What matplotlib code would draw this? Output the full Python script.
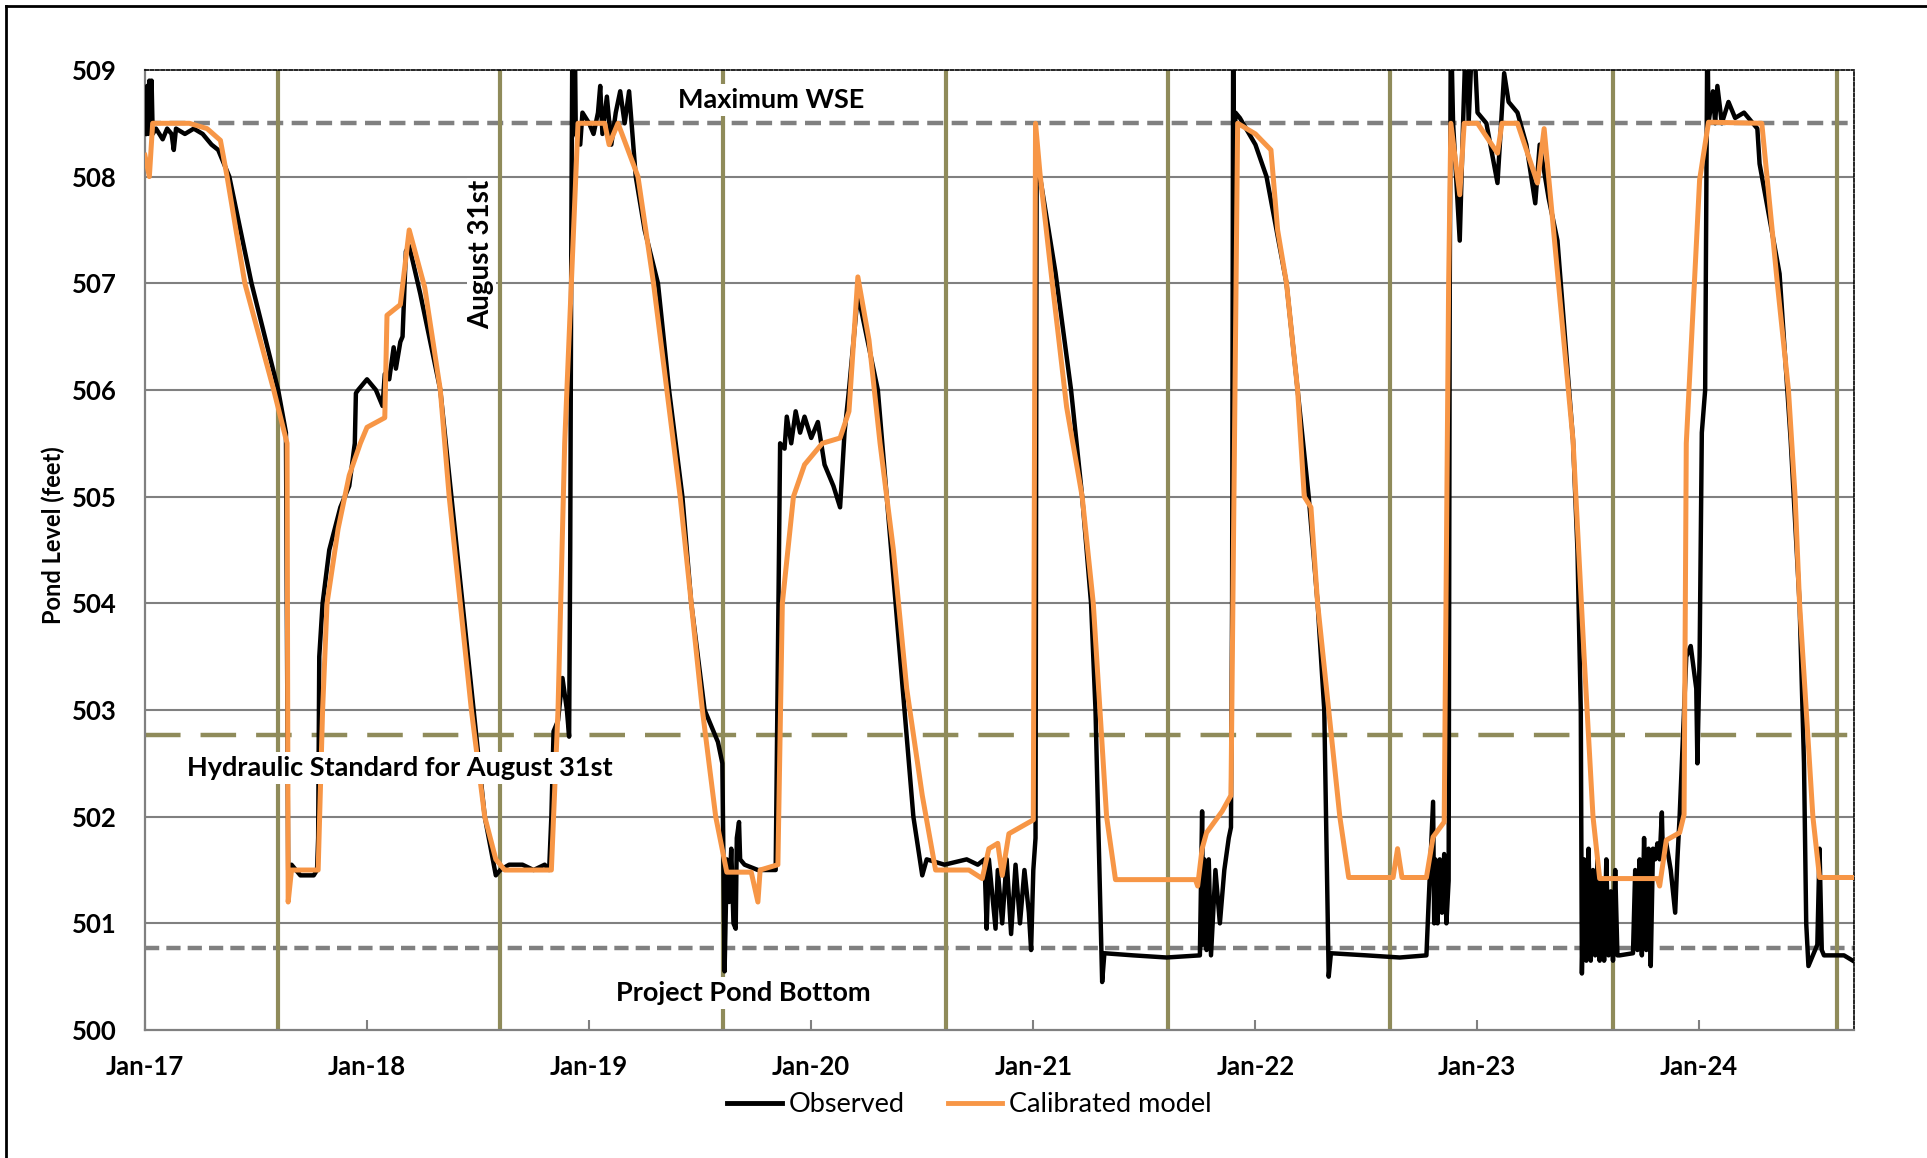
import numpy as np
import pandas as pd
import matplotlib
matplotlib.use('Agg')
import matplotlib.pyplot as plt
import matplotlib.dates as mdates
from matplotlib.lines import Line2D

plt.rcParams['font.family'] = ['Lato', 'DejaVu Sans']

# time axis values are years elapsed since 1 Jan 2017
obs_t = [0.0, 0.005, 0.01, 0.015, 0.02, 0.025, 0.03, 0.035, 0.05, 0.08, 0.10, 0.12, 0.13, 0.14,
         0.18, 0.22, 0.26, 0.30, 0.33, 0.38, 0.48, 0.60, 0.635, 0.645, 0.66, 0.70, 0.76, 0.775,
         0.78, 0.785, 0.80, 0.83, 0.88, 0.92, 0.945, 0.95, 0.96, 1.0, 1.04, 1.07, 1.08, 1.10,
         1.12, 1.13, 1.15, 1.16, 1.175, 1.19, 1.24, 1.33, 1.38, 1.43, 1.48, 1.53, 1.58, 1.60,
         1.64, 1.70, 1.75, 1.80, 1.82, 1.83, 1.84, 1.86, 1.88, 1.90, 1.91, 1.915, 1.92, 1.925,
         1.93, 1.935, 1.94, 1.96, 1.97, 2.0, 2.02, 2.04, 2.05, 2.06, 2.08, 2.10, 2.12, 2.14,
         2.16, 2.18, 2.21, 2.25, 2.31, 2.36, 2.42, 2.46, 2.52, 2.58, 2.60, 2.61, 2.62, 2.63,
         2.64, 2.65, 2.66, 2.665, 2.675, 2.68, 2.70, 2.76, 2.84, 2.85, 2.86, 2.88, 2.89, 2.91,
         2.93, 2.95, 2.97, 3.0, 3.03, 3.06, 3.10, 3.13, 3.15, 3.17, 3.21, 3.30, 3.34, 3.38,
         3.42, 3.46, 3.50, 3.52, 3.60, 3.70, 3.75, 3.78, 3.79, 3.80, 3.83, 3.84, 3.86, 3.88,
         3.90, 3.92, 3.94, 3.96, 3.98, 3.99, 4.0, 4.01, 4.015, 4.03, 4.10, 4.17, 4.22, 4.26,
         4.28, 4.31, 4.32, 4.45, 4.60, 4.75, 4.76, 4.765, 4.77, 4.78, 4.79, 4.80, 4.82, 4.84,
         4.86, 4.88, 4.89, 4.895, 4.90, 4.905, 4.91, 4.93, 5.0, 5.05, 5.14, 5.19, 5.24, 5.28,
         5.31, 5.33, 5.34, 5.50, 5.65, 5.77, 5.78, 5.80, 5.805, 5.81, 5.82, 5.83, 5.84, 5.85,
         5.86, 5.87, 5.875, 5.88, 5.89, 5.92, 5.935, 5.95, 5.96, 5.98, 6.0, 6.04, 6.09, 6.12,
         6.14, 6.18, 6.22, 6.26, 6.28, 6.32, 6.36, 6.43, 6.45, 6.465, 6.47, 6.48, 6.49, 6.50,
         6.51, 6.52, 6.53, 6.54, 6.55, 6.56, 6.57, 6.58, 6.59, 6.60, 6.61, 6.62, 6.63, 6.64,
         6.70, 6.71, 6.72, 6.73, 6.74, 6.75, 6.76, 6.77, 6.78, 6.79, 6.80, 6.81, 6.82, 6.83,
         6.835, 6.85, 6.87, 6.89, 6.90, 6.91, 6.94, 6.96, 6.985, 6.99, 7.0, 7.01, 7.025, 7.035,
         7.04, 7.06, 7.07, 7.08, 7.10, 7.13, 7.16, 7.20, 7.24, 7.26, 7.27, 7.36, 7.41, 7.45,
         7.47, 7.48, 7.49, 7.51, 7.53, 7.54, 7.55, 7.56, 7.65, 7.69]
obs_ft = [508.4, 508.6, 508.85, 508.4, 508.9, 508.45, 508.9, 508.4, 508.45, 508.35, 508.45, 508.4, 508.25, 508.45,
          508.4, 508.45, 508.4, 508.3, 508.25, 508.0, 507.0, 506.0, 505.6, 501.5, 501.55, 501.45, 501.45, 501.5,
          501.8, 503.5, 504.0, 504.5, 504.9, 505.1, 505.5, 505.97, 506.0, 506.1, 506.0, 505.85, 506.15, 506.1,
          506.4, 506.2, 506.45, 506.5, 507.3, 507.35, 506.9, 506.0, 505.0, 504.0, 503.0, 502.0, 501.45, 501.5,
          501.55, 501.55, 501.5, 501.55, 501.5, 502.0, 502.8, 502.9, 503.3, 503.0, 502.75, 504.5, 507.5, 509.5,
          508.5, 509.5, 508.4, 508.3, 508.6, 508.5, 508.4, 508.6, 508.85, 508.4, 508.75, 508.3, 508.6, 508.8,
          508.5, 508.8, 508.0, 507.5, 507.0, 506.0, 505.0, 504.0, 503.0, 502.7, 502.5, 500.55, 501.6, 501.2,
          501.7, 501.0, 500.95, 501.8, 501.95, 501.6, 501.55, 501.5, 501.5, 503.5, 505.5, 505.45, 505.75, 505.5,
          505.8, 505.6, 505.75, 505.55, 505.7, 505.3, 505.1, 504.9, 505.6, 506.0, 506.9, 506.0, 505.0, 504.0,
          503.0, 502.0, 501.45, 501.6, 501.55, 501.6, 501.55, 501.6, 500.95, 501.6, 500.95, 501.5, 501.0, 501.6,
          500.9, 501.55, 501.0, 501.5, 501.1, 500.75, 501.5, 501.8, 508.0, 508.0, 507.1, 506.0, 505.0, 504.0,
          503.0, 500.45, 500.72, 500.7, 500.68, 500.7, 502.05, 500.8, 501.6, 500.75, 501.6, 500.7, 501.5, 501.0,
          501.5, 501.8, 501.9, 504.0, 509.5, 506.9, 508.6, 508.55, 508.3, 508.0, 507.0, 506.0, 505.0, 504.0,
          503.0, 500.5, 500.72, 500.7, 500.68, 500.7, 501.2, 502.14, 501.0, 501.6, 501.0, 501.6, 501.1, 501.65,
          501.0, 501.4, 506.93, 509.5, 508.5, 507.4, 508.5, 509.5, 508.5, 509.5, 508.6, 508.5, 507.94, 508.97,
          508.7, 508.6, 508.3, 507.75, 508.3, 507.8, 507.4, 505.53, 504.5, 503.0, 500.53, 501.6, 500.65, 501.7,
          500.65, 501.5, 500.7, 501.6, 500.65, 501.4, 500.65, 501.6, 500.7, 501.3, 500.65, 501.5, 500.7, 500.7,
          500.72, 501.5, 500.75, 501.6, 500.7, 501.8, 500.75, 501.7, 500.6, 501.7, 501.6, 501.75, 501.6, 502.04,
          501.6, 501.75, 501.5, 501.1, 501.6, 502.0, 503.5, 503.6, 503.2, 502.5, 503.5, 505.6, 506.0, 509.5,
          508.5, 508.8, 508.5, 508.85, 508.5, 508.7, 508.55, 508.6, 508.5, 508.45, 508.12, 507.09, 505.53, 504.0,
          502.5, 501.0, 500.6, 500.7, 500.8, 501.7, 500.75, 500.7, 500.7, 500.65]

mod_t = [0.0, 0.02, 0.035, 0.20, 0.28, 0.34, 0.37, 0.45, 0.58, 0.64, 0.645, 0.66, 0.78, 0.80,
         0.82, 0.87, 0.92, 0.97, 1.0, 1.08, 1.09, 1.15, 1.19, 1.26, 1.33, 1.37, 1.42, 1.47,
         1.53, 1.58, 1.62, 1.83, 1.86, 1.89, 1.95, 2.07, 2.09, 2.13, 2.22, 2.29, 2.35, 2.41,
         2.46, 2.51, 2.57, 2.62, 2.73, 2.76, 2.77, 2.85, 2.87, 2.92, 2.97, 3.05, 3.13, 3.17,
         3.21, 3.26, 3.31, 3.37, 3.43, 3.50, 3.56, 3.71, 3.77, 3.80, 3.84, 3.86, 3.89, 4.0,
         4.01, 4.03, 4.08, 4.15, 4.22, 4.27, 4.30, 4.33, 4.37, 4.73, 4.74, 4.76, 4.78, 4.85,
         4.89, 4.92, 5.0, 5.07, 5.10, 5.14, 5.19, 5.22, 5.25, 5.28, 5.33, 5.38, 5.42, 5.62,
         5.64, 5.66, 5.77, 5.80, 5.85, 5.87, 5.88, 5.92, 5.94, 6.0, 6.09, 6.11, 6.18, 6.27,
         6.30, 6.36, 6.43, 6.48, 6.52, 6.55, 6.81, 6.82, 6.85, 6.91, 6.93, 6.94, 7.0, 7.04,
         7.28, 7.35, 7.40, 7.43, 7.45, 7.48, 7.51, 7.54, 7.695]
mod_ft = [508.2, 508.0, 508.5, 508.5, 508.45, 508.34, 508.0, 507.0, 506.0, 505.5, 501.2, 501.5, 501.5, 503.0,
          504.0, 504.7, 505.2, 505.5, 505.65, 505.74, 506.7, 506.8, 507.5, 506.96, 506.0, 505.0, 504.0, 503.0,
          502.0, 501.6, 501.5, 501.5, 503.0, 505.5, 508.5, 508.5, 508.3, 508.5, 508.0, 507.0, 506.0, 505.0,
          504.0, 503.0, 502.0, 501.48, 501.48, 501.2, 501.5, 501.55, 504.0, 505.0, 505.3, 505.5, 505.55, 505.8,
          507.06, 506.47, 505.5, 504.5, 503.2, 502.2, 501.5, 501.5, 501.42, 501.7, 501.75, 501.45, 501.84, 501.97,
          508.5, 508.03, 507.1, 505.84, 505.0, 504.0, 503.0, 502.0, 501.41, 501.41, 501.35, 501.7, 501.85, 502.05,
          502.2, 508.5, 508.4, 508.25, 507.5, 507.0, 506.0, 505.0, 504.9, 504.0, 503.0, 502.0, 501.43, 501.43,
          501.7, 501.43, 501.43, 501.81, 501.95, 507.0, 508.5, 507.83, 508.5, 508.5, 508.22, 508.5, 508.5, 507.94,
          508.45, 507.1, 505.53, 503.5, 502.0, 501.42, 501.42, 501.35, 501.78, 501.85, 502.02, 505.5, 507.97, 508.51,
          508.5, 507.0, 506.0, 505.0, 504.0, 503.0, 502.0, 501.43, 501.43]

max_wse = 508.5
hydraulic_std = 502.77
pond_bottom = 500.77
# vertical season markers as they sit in the picture (years since Jan 2017)
mark_t = [0.60, 1.60, 2.605, 3.607, 4.605, 5.608, 6.612, 7.617]
x_end_t = 7.695

base = pd.Timestamp('2017-01-01')


def to_date(t):
    return base + pd.to_timedelta(np.asarray(t, dtype=float) * 365.25, unit='D')


grey = '#808080'
olive = '#8F8B5A'
orange = '#F79646'

fig = plt.figure(figsize=(19.27, 11.58), dpi=100)
ax = fig.add_axes([0.0752, 0.1105, 0.9621 - 0.0752, 0.9396 - 0.1105])

for y in range(501, 509):
    ax.axhline(y, color=grey, lw=1.5, zorder=1)

ax.axhline(max_wse, color=grey, lw=3.2, ls=(0, (3.6, 1.9)), zorder=2)
ax.axhline(pond_bottom, color=grey, lw=3.2, ls=(0, (3.2, 1.6)), zorder=2)
ax.axhline(hydraulic_std, color=olive, lw=3.2, ls=(0, (8, 4.5)), zorder=2)
for d in to_date(mark_t):
    ax.axvline(d, color=olive, lw=3, zorder=2)

ax.plot(to_date(obs_t), obs_ft, color='black', lw=3.2, zorder=3)
ax.plot(to_date(mod_t), mod_ft, color=orange, lw=3.6, zorder=4)

ax.set_ylim(500, 509)
ax.set_xlim(to_date([0.0])[0], to_date([x_end_t])[0])
ax.set_yticks(range(500, 510))
ax.xaxis.set_major_locator(mdates.YearLocator())
ax.xaxis.set_major_formatter(mdates.DateFormatter('%b-%y'))
ax.tick_params(axis='x', direction='in', length=7, width=1.5, color=grey, pad=18, labelsize=18.5)
ax.tick_params(axis='y', length=0, pad=20, labelsize=18.5)
for lab in ax.get_xticklabels() + ax.get_yticklabels():
    lab.set_fontweight('bold')

for side in ['left', 'bottom']:
    ax.spines[side].set_color(grey)
    ax.spines[side].set_linewidth(1.6)
for side in ['top', 'right']:
    ax.spines[side].set_color('black')
    ax.spines[side].set_linewidth(1.2)
    ax.spines[side].set_linestyle((0, (2, 1.2)))

ax.set_ylabel('Pond Level (feet)', fontsize=17, fontweight='bold')
ax.yaxis.set_label_coords(-0.047, 0.515)

box = dict(facecolor='white', edgecolor='none', pad=3)
ax.text(to_date([2.82])[0], 508.72, 'Maximum WSE', ha='center', va='center',
        fontsize=19.5, fontweight='bold', bbox=box, zorder=6)
ax.text(to_date([1.146])[0], 502.46, 'Hydraulic Standard for August 31st', ha='center', va='center',
        fontsize=19.5, fontweight='bold', bbox=box, zorder=6)
ax.text(to_date([2.696])[0], 500.35, 'Project Pond Bottom', ha='center', va='center',
        fontsize=19.5, fontweight='bold', bbox=box, zorder=6)
ax.text(to_date([1.515])[0], 507.27, 'August 31st', ha='center', va='center', rotation=90,
        fontsize=20, fontweight='bold', bbox=dict(facecolor='white', edgecolor='none', pad=1), zorder=1.5)

handles = [Line2D([], [], color='black', lw=3.5), Line2D([], [], color=orange, lw=3.5)]
fig.legend(handles, ['Observed', 'Calibrated model'], loc='center', bbox_to_anchor=(0.503, 0.046),
           ncol=2, frameon=False, fontsize=19.5, handlelength=2.0, handletextpad=0.25, columnspacing=1.6)

# chart frame (left and top edges visible in the original)
fig.add_artist(Line2D([0.003, 0.003], [0.0, 0.995], color='black', lw=2, transform=fig.transFigure))
fig.add_artist(Line2D([0.003, 1.0], [0.995, 0.995], color='black', lw=2, transform=fig.transFigure))

fig.savefig('out.png', dpi=100)
